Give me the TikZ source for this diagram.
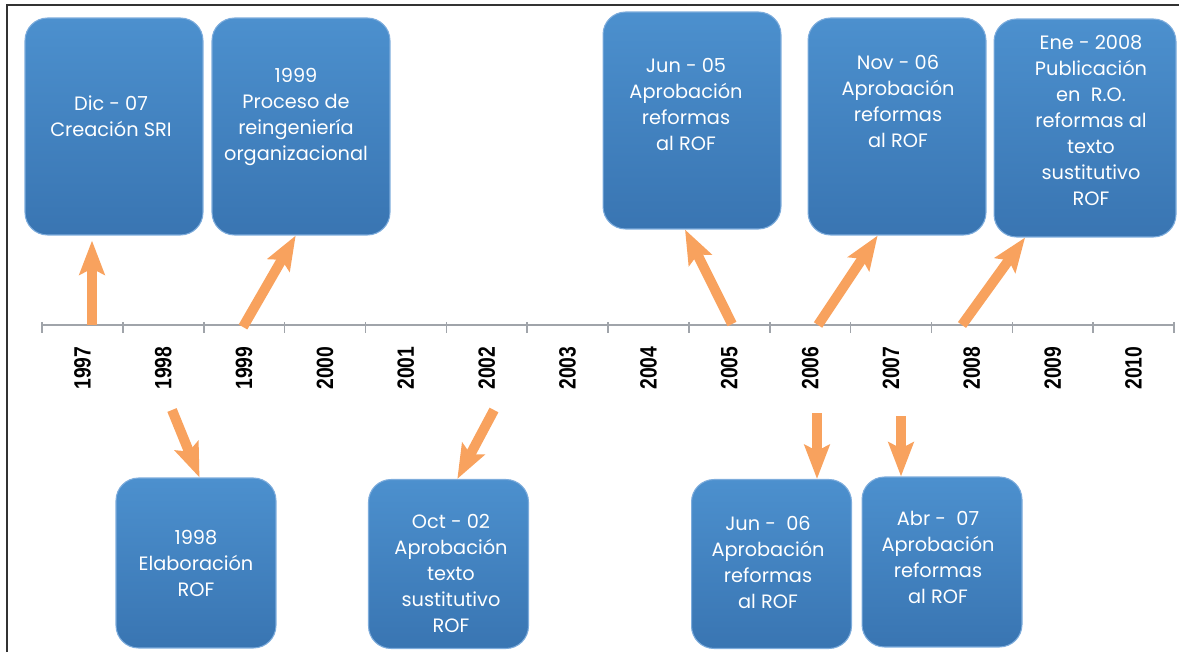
\documentclass[tikz,border=0pt]{standalone}
\usepackage{fontspec}
\setmainfont{Poppins}
\newfontfamily\yearfont[FakeStretch=0.82]{Liberation Sans}
\usetikzlibrary{arrows.meta}

\definecolor{boxtop}{RGB}{76,144,206}
\definecolor{boxbottom}{RGB}{57,117,178}
\definecolor{boxedge}{RGB}{125,172,220}
\definecolor{arroworange}{RGB}{248,162,94}
\definecolor{axisgray}{RGB}{160,164,170}
\definecolor{framegray}{RGB}{50,50,50}

\begin{document}
\begin{tikzpicture}
		[
		x=0.02cm, y=-0.02cm,
		font=\fontsize{11}{14.8}\selectfont
		]
		
		% Styles: boxes, box texts, years and arrows
		\tikzstyle{event box}=[rectangle,rounded corners=0.45cm,draw=boxedge,line width=0.6pt,top color=boxtop,bottom color=boxbottom,inner sep=0];
		\tikzstyle{top box}=[event box,minimum width=3.56cm,minimum height=4.34cm];
		\tikzstyle{bottom box}=[event box,minimum width=3.2cm,minimum height=3.38cm];
		\tikzstyle{event text}=[text=white,align=center,inner sep=0];
		\tikzstyle{year node}=[rotate=90,inner sep=0,font=\yearfont\fontsize{13.4}{14}\selectfont\bfseries];
		\tikzstyle{time arrow}=[draw=arroworange,line width=0.2cm,-{Stealth[length=0.68cm,width=0.5cm,inset=0.12cm]}];
		
		\useasboundingbox (0,0) rectangle (1179,652);
		% Frame
		\draw[framegray,line width=1.1pt](7,652)--(7,5)--(1179,5);
		
		% The time line
		\draw[axisgray,line width=1.1pt](42,325)--(1174,325);
		\foreach \i in {0,...,14} \draw[axisgray,line width=0.9pt](42+80.86*\i,322)--(42+80.86*\i,333);
		\foreach \y [count=\i from 0] in {1997,...,2010}
			\node(y\y)[year node]at(82.4+80.86*\i,368){\y};
		
		% Boxes above the line
		\node(b97)[top box]at(114,126.5){};
		\node(b99)[top box]at(301,126.5){};
		\node(b05)[top box]at(692,120.5){};
		\node(bn06)[top box]at(897,126.5){};
		\node(b08)[top box,minimum width=3.64cm,minimum height=4.36cm]at(1085,128){};
		
		% Boxes below the line
		\node(b98)[bottom box,minimum height=3.4cm]at(196,563){};
		\node(b02)[bottom box]at(448.5,564){};
		\node(bj06)[bottom box]at(771.5,564){};
		\node(b07)[bottom box,minimum height=3.4cm]at(942,562){};
		
		% Texts
		\node(t97)[event text]at(111,116){Dic - 07\\Creación SRI};
		\node(t99)[event text]at(296,116.5){1999\\Proceso de\\reingeniería\\organizacional};
		\node(t05)[event text]at(686,104){Jun - 05\\Aprobación\\reformas\\al ROF};
		\node(tn06)[event text]at(898,101){Nov - 06\\Aprobación\\reformas\\al ROF};
		\node(t08)[event text]at(1091,120){Ene - 2008\\Publicación\\en ~R.O.\\reformas al\\texto\\sustitutivo\\ROF};
		\node(t98)[event text]at(196,563){1998\\Elaboración\\ROF};
		\node(t02)[event text]at(451,573){Oct - 02\\Aprobación\\texto\\sustitutivo\\ROF};
		\node(tj06)[event text]at(768,562){Jun - ~06\\Aprobación\\reformas\\al ROF};
		\node(t07)[event text]at(938,557){Abr - ~07\\Aprobación\\reformas\\al ROF};
		
		% Arrows up
		\coordinate(a97)at(92,325);
		\coordinate(a99)at(243,327);
		\coordinate(a05)at(732,324);
		\coordinate(an06)at(818,325);
		\coordinate(a08)at(962,325);
		\draw[time arrow,shorten >=0.1cm](a97)--(a97|-b97.south);
		\draw[time arrow](a99)--([xshift=-3pt]b99.south);
		\draw[time arrow](a05)--([xshift=-4pt]b05.south);
		\draw[time arrow](an06)--([xshift=-11pt]bn06.south);
		\draw[time arrow](a08)--([xshift=18pt]b08.south west);
		
		% Arrows down
		\coordinate(d98)at(172,410);
		\coordinate(d02)at(494,410);
		\coordinate(dj06)at(817,413);
		\coordinate(d07)at(901,416);
		\draw[time arrow](d98)--([xshift=2pt]b98.north);
		\draw[time arrow](d02)--([xshift=5pt]b02.north);
		\draw[time arrow](dj06)--(dj06|-bj06.north);
		\draw[time arrow](d07)--(d07|-b07.north);
		\end{tikzpicture}
\end{document}
